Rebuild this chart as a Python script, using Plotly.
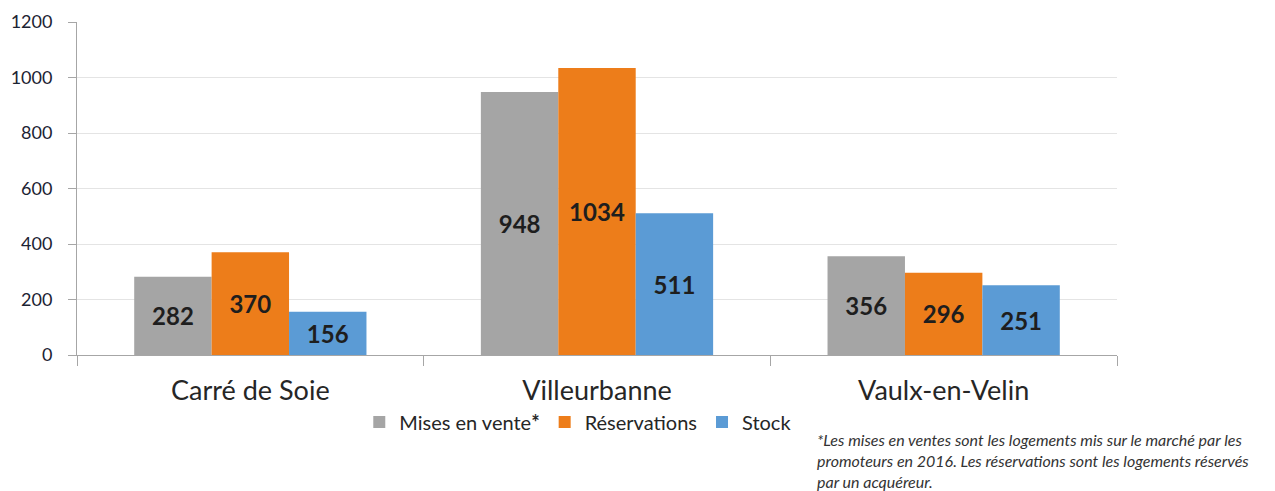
import plotly.graph_objects as go

categories = ["Carré de Soie", "Villeurbanne", "Vaulx-en-Velin"]
mises_en_vente = [282, 948, 356]
reservations = [370, 1034, 296]
stock = [156, 511, 251]
series_names = ["Mises en vente<b>*</b>", "Réservations", "Stock"]
colors = ["#A5A5A5", "#ED7D1A", "#5B9BD5"]
y_ticks = [0, 200, 400, 600, 800, 1000, 1200]
footnote = ("*Les mises en ventes sont les logements mis sur le marché par les<br>"
            "promoteurs en 2016. Les réservations sont les logements réservés<br>"
            "par un acquéreur.")

font_family = "Lato, 'Noto Sans', sans-serif"

fig = go.Figure()
for name, vals, col in zip(series_names, [mises_en_vente, reservations, stock], colors):
    fig.add_trace(go.Bar(
        x=categories, y=vals, name=name, marker=dict(color=col, line=dict(width=0)),
        texttemplate="<b>%{y}</b>", textposition="inside", insidetextanchor="middle",
        textfont=dict(size=24, color="#1E1E1E", family=font_family),
        constraintext="none",
    ))

# page body has an 8px margin: figure is offset by 8px right and down
fig.update_layout(
    width=1267, height=483,
    margin=dict(l=69, r=158, t=14, b=136, autoexpand=False),
    paper_bgcolor="white", plot_bgcolor="white",
    barmode="group", bargap=0.33, bargroupgap=0,
    font=dict(family=font_family, color="#262626"),
    showlegend=True,
    legend=dict(orientation="h", x=0.482, xanchor="center", y=-0.201, yanchor="middle",
                font=dict(size=20, color="#262626"),
                traceorder="normal", bgcolor="rgba(0,0,0,0)"),
    xaxis=dict(showline=True, linecolor="#A6A6A6", linewidth=1, automargin=False,
               ticks="outside", tickson="boundaries", ticklen=10, tickcolor="#A6A6A6",
               ticklabelstandoff=12,
               tickfont=dict(size=27, color="#262626"), showgrid=False),
    yaxis=dict(range=[0, 1200], tickvals=y_ticks, showline=True, linecolor="#A6A6A6",
               linewidth=1, ticks="outside", ticklen=8, tickcolor="#A6A6A6",
               ticklabelstandoff=12, automargin=False,
               gridcolor="#E4E4E4", gridwidth=1, zeroline=False,
               tickfont=dict(size=18, color="#1C2333")),
    annotations=[dict(text="<i>" + footnote + "</i>", xref="paper", yref="paper",
                      x=0.7095, y=-0.218, xanchor="left", yanchor="top", align="left",
                      showarrow=False, font=dict(size=16, color="#333333"))],
)

fig.write_html("out.html")
